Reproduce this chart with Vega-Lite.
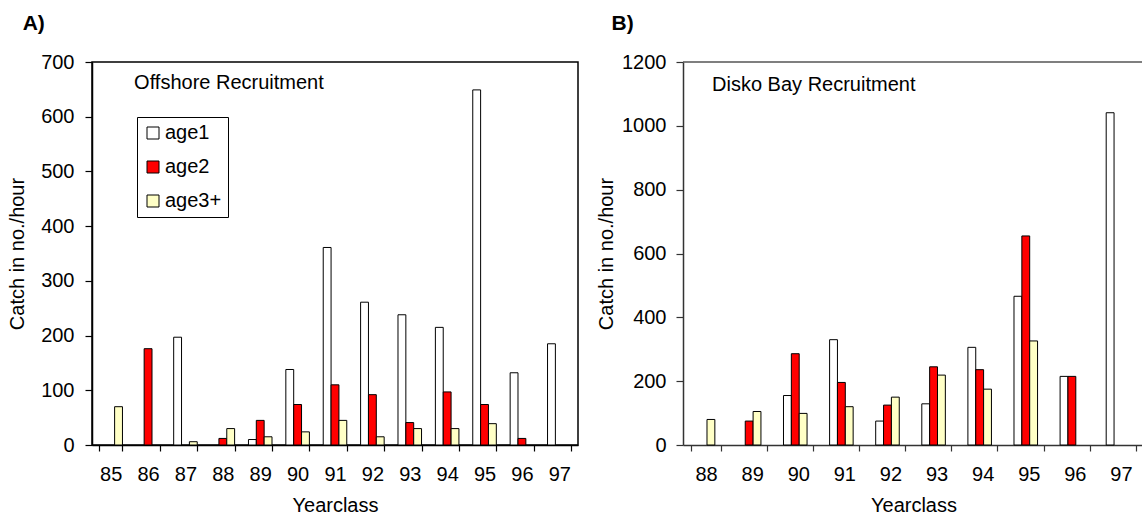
{
  "$schema": "https://vega.github.io/schema/vega-lite/v6.json",
  "padding": {"left": 6, "top": 12, "right": 1, "bottom": 0},
  "background": "white",
  "config": {
    "font": "Liberation Sans",
    "view": {"stroke": "black", "strokeWidth": 1.5},
    "axis": {
      "domainColor": "black", "domainWidth": 1.5, "tickColor": "black", "tickWidth": 1.2,
      "labelColor": "black", "titleColor": "black", "labelFontSize": 20, "titleFontSize": 20,
      "titleFontWeight": "normal", "grid": false, "labelFont": "Liberation Sans", "titleFont": "Liberation Sans"
    },
    "title": {"font": "Liberation Sans", "fontSize": 21, "fontWeight": "bold", "color": "black", "anchor": "start", "frame": "bounds"}
  },
  "datasets": {
    "offshore": [
      {"year": "85", "age": "age3+", "catch": 70},
      {"year": "86", "age": "age2", "catch": 176},
      {"year": "87", "age": "age1", "catch": 197},
      {"year": "87", "age": "age3+", "catch": 6},
      {"year": "88", "age": "age2", "catch": 12},
      {"year": "88", "age": "age3+", "catch": 30},
      {"year": "89", "age": "age1", "catch": 10},
      {"year": "89", "age": "age2", "catch": 45},
      {"year": "89", "age": "age3+", "catch": 15},
      {"year": "90", "age": "age1", "catch": 138},
      {"year": "90", "age": "age2", "catch": 74},
      {"year": "90", "age": "age3+", "catch": 24},
      {"year": "91", "age": "age1", "catch": 361},
      {"year": "91", "age": "age2", "catch": 110},
      {"year": "91", "age": "age3+", "catch": 45},
      {"year": "92", "age": "age1", "catch": 261},
      {"year": "92", "age": "age2", "catch": 92},
      {"year": "92", "age": "age3+", "catch": 15},
      {"year": "93", "age": "age1", "catch": 238},
      {"year": "93", "age": "age2", "catch": 41},
      {"year": "93", "age": "age3+", "catch": 30},
      {"year": "94", "age": "age1", "catch": 215},
      {"year": "94", "age": "age2", "catch": 97},
      {"year": "94", "age": "age3+", "catch": 30},
      {"year": "95", "age": "age1", "catch": 649},
      {"year": "95", "age": "age2", "catch": 74},
      {"year": "95", "age": "age3+", "catch": 39},
      {"year": "96", "age": "age1", "catch": 132},
      {"year": "96", "age": "age2", "catch": 12},
      {"year": "97", "age": "age1", "catch": 185}
    ],
    "disko": [
      {"year": "88", "age": "age3+", "catch": 80},
      {"year": "89", "age": "age2", "catch": 75},
      {"year": "89", "age": "age3+", "catch": 105},
      {"year": "90", "age": "age1", "catch": 155},
      {"year": "90", "age": "age2", "catch": 286},
      {"year": "90", "age": "age3+", "catch": 99},
      {"year": "91", "age": "age1", "catch": 330},
      {"year": "91", "age": "age2", "catch": 196},
      {"year": "91", "age": "age3+", "catch": 120},
      {"year": "92", "age": "age1", "catch": 75},
      {"year": "92", "age": "age2", "catch": 125},
      {"year": "92", "age": "age3+", "catch": 150},
      {"year": "93", "age": "age1", "catch": 129},
      {"year": "93", "age": "age2", "catch": 245},
      {"year": "93", "age": "age3+", "catch": 219},
      {"year": "94", "age": "age1", "catch": 306},
      {"year": "94", "age": "age2", "catch": 236},
      {"year": "94", "age": "age3+", "catch": 175},
      {"year": "95", "age": "age1", "catch": 466},
      {"year": "95", "age": "age2", "catch": 655},
      {"year": "95", "age": "age3+", "catch": 326},
      {"year": "96", "age": "age1", "catch": 215},
      {"year": "96", "age": "age2", "catch": 215},
      {"year": "97", "age": "age1", "catch": 1041}
    ]
  },
  "spacing": 17,
  "resolve": {"scale": {"fill": "independent"}},
  "hconcat": [
    {
      "width": 486,
      "height": 383,
      "title": {"text": "A)", "dx": 15, "offset": 18},
      "layer": [
        {
          "data": {"name": "offshore"},
          "mark": {"type": "bar", "stroke": "black", "strokeWidth": 1},
          "encoding": {
            "x": {
              "field": "year", "type": "ordinal", "title": "Yearclass",
              "scale": {"domain": ["85", "86", "87", "88", "89", "90", "91", "92", "93", "94", "95", "96", "97"], "paddingInner": 0.37, "paddingOuter": 0.185},
              "axis": {"tickBand": "extent", "tickSize": 6, "labelPadding": 13, "labelAngle": 0, "titlePadding": 11}
            },
            "xOffset": {"field": "age", "type": "nominal", "scale": {"domain": ["age1", "age2", "age3+"], "paddingInner": 0, "paddingOuter": 0}},
            "y": {
              "field": "catch", "type": "quantitative", "title": "Catch in no./hour",
              "scale": {"domain": [0, 700], "nice": false},
              "axis": {"values": [0, 100, 200, 300, 400, 500, 600, 700], "format": "d", "tickSize": 7, "labelPadding": 11, "titlePadding": 13}
            },
            "fill": {
              "field": "age", "type": "nominal",
              "scale": {"domain": ["age1", "age2", "age3+"], "range": ["#FFFFFF", "#FF0000", "#FFFFC6"]},
              "legend": {
                "orient": "none", "legendX": 45, "legendY": 55, "title": null,
                "padding": 6, "strokeColor": "black", "fillColor": "white",
                "symbolType": "square", "symbolSize": 144, "symbolStrokeColor": "black", "symbolStrokeWidth": 1,
                "labelFontSize": 20, "labelColor": "black", "labelFont": "Liberation Sans", "rowPadding": 14, "labelOffset": 2
              }
            }
          }
        },
        {
          "data": {"values": [{"label": "Offshore Recruitment"}]},
          "mark": {"type": "text", "align": "left", "baseline": "alphabetic", "fontSize": 20, "dx": -14, "color": "black"},
          "encoding": {
            "x": {"datum": "86", "type": "ordinal"},
            "y": {"datum": 650, "type": "quantitative"},
            "text": {"field": "label", "type": "nominal"}
          }
        }
      ]
    },
    {
      "width": 461,
      "height": 383,
      "view": {"stroke": null},
      "title": {"text": "B)", "dx": 15, "offset": 18},
      "layer": [
        {
          "data": {"name": "disko"},
          "mark": {"type": "bar", "stroke": "black", "strokeWidth": 1},
          "encoding": {
            "x": {
              "field": "year", "type": "ordinal", "title": "Yearclass",
              "scale": {"domain": ["88", "89", "90", "91", "92", "93", "94", "95", "96", "97"], "paddingInner": 0.36, "paddingOuter": 0.18},
              "axis": {"tickBand": "extent", "tickSize": 6, "labelPadding": 13, "labelAngle": 0, "titlePadding": 11, "domainColor": "#333333", "tickColor": "#333333"}
            },
            "xOffset": {"field": "age", "type": "nominal", "scale": {"domain": ["age1", "age2", "age3+"], "paddingInner": 0, "paddingOuter": 0}},
            "y": {
              "field": "catch", "type": "quantitative", "title": "Catch in no./hour",
              "scale": {"domain": [0, 1200], "nice": false},
              "axis": {"values": [0, 200, 400, 600, 800, 1000, 1200], "format": "d", "tickSize": 7, "labelPadding": 10, "titlePadding": 5, "domainColor": "#333333", "tickColor": "#333333"}
            },
            "fill": {
              "field": "age", "type": "nominal",
              "scale": {"domain": ["age1", "age2", "age3+"], "range": ["#FFFFFF", "#FF0000", "#FFFFC6"]},
              "legend": null
            }
          }
        },
        {
          "data": {"values": [{"label": "Disko Bay Recruitment"}]},
          "mark": {"type": "text", "align": "left", "baseline": "alphabetic", "fontSize": 20, "dx": 6, "color": "black"},
          "encoding": {
            "x": {"datum": "88", "type": "ordinal"},
            "y": {"datum": 1110, "type": "quantitative"},
            "text": {"field": "label", "type": "nominal"}
          }
        },
        {
          "data": {"values": [{"top": 1200}]},
          "mark": {"type": "rule", "color": "#555555", "strokeWidth": 1.5},
          "encoding": {"y": {"field": "top", "type": "quantitative"}}
        }
      ]
    }
  ]
}
